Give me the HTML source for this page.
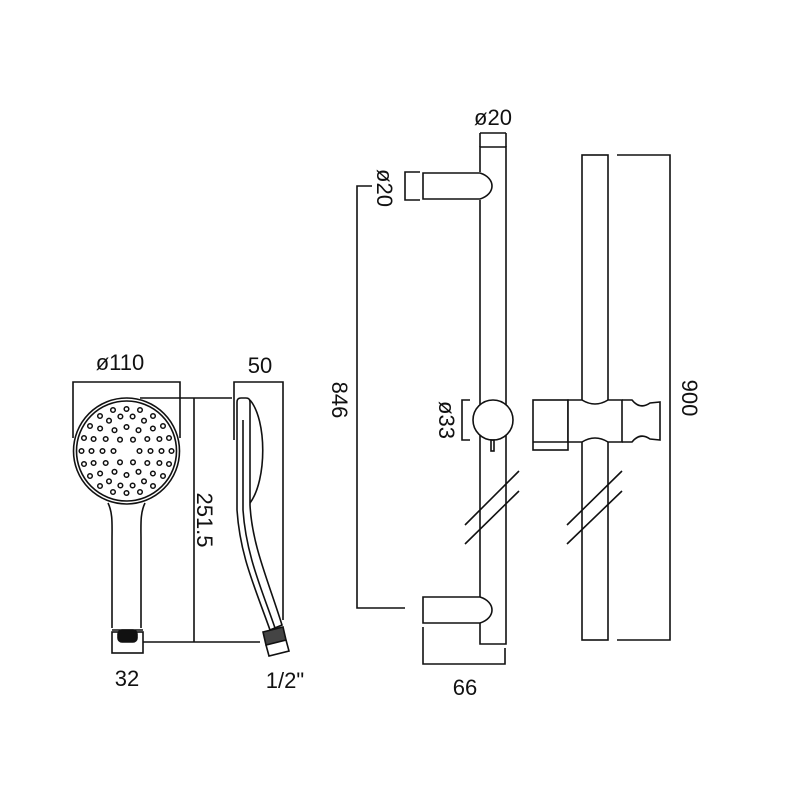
<!DOCTYPE html>
<html><head><meta charset="utf-8"><style>
html,body{margin:0;padding:0;background:#fff}
svg{display:block}
text{font-family:"Liberation Sans",sans-serif;font-size:22px;fill:#111}
</style></head><body>
<svg width="800" height="800" viewBox="0 0 800 800" xmlns="http://www.w3.org/2000/svg">
<g fill="none" stroke="#111" stroke-width="1.6">
<circle cx="126.5" cy="451" r="53"/>
<circle cx="126.5" cy="451" r="50"/>
<path d="M108 503 C113 513 112 525 112 540 L112 628 M145 503 C140 513 141 525 141 540 L141 628"/>
<path d="M112 630 L143 630"/>
<rect x="112" y="632" width="31" height="21"/>
<rect x="118" y="630" width="19" height="12" rx="4" fill="#111"/>
<path d="M73 438 L73 382 L180 382 L180 438"/>
<path d="M194 398 L194 642 M140 398 L232 398 M143 642 L260 642"/>
<path d="M234 440 L234 382 L283 382 L283 620"/>
<path d="M237 402 Q237 398 241 398 L246 398 Q250 398 250 402 L250 505 C252 545 268 580 282 625 L270 630 C254 585 240 555 237 510 Z"/>
<path d="M250 400 C267 420 267 480 250 503"/>
<path d="M243 420 L243 510 C246 555 262 590 275 628"/>
<path d="M263 632 L283 627 L286 640 L266 645 Z" fill="#444"/>
<path d="M266 645 L269 656 L289 651 L286 640"/>
<path d="M480 172 L480 147 L506 147 L506 644 L480 644 L480 623"/>
<path d="M480 200 L480 597"/>
<path d="M480 133 L480 147 M506 133 L506 147 M480 133 L506 133"/>
<path d="M423 173 L480 173 C496 178 496 194 480 199 L423 199 Z"/>
<path d="M420 172 L405 172 L405 200 L420 200"/>
<path d="M372 186 L357 186 L357 608 L405 608"/>
<path d="M423 597 L480 597 C496 602 496 618 480 623 L423 623 Z"/>
<path d="M423 627 L423 664 L505 664 L505 648"/>
<circle cx="493" cy="420" r="20" fill="#fff"/>
<rect x="491" y="440" width="3" height="11"/>
<path d="M470 400 L462 400 L462 440 L470 440"/>
<path d="M465 525 L519 471 M465 544 L519 491"/>
<rect x="582" y="155" width="26" height="485"/>
<path d="M617 155 L670 155 L670 640 L617 640"/>
<path d="M567 525 L622 471 M567 544 L622 491"/>
<rect x="533" y="400" width="35" height="50" fill="#fff"/>
<path d="M533 442 L568 442"/>
<path d="M568 400 L582 400 Q595 408 608 400 L622 400 L622 442 L608 442 Q595 434 582 442 L568 442 Z" fill="#fff"/>
<path d="M622 400 L632 400 Q640 410 650 403 L660 402 L660 440 L650 439 Q640 432 632 442 L622 442"/>
</g>
<g fill="none" stroke="#111" stroke-width="1.5">
<circle cx="139.5" cy="451" r="2.3"/><circle cx="133" cy="462.3" r="2.3"/><circle cx="120" cy="462.3" r="2.3"/><circle cx="113.5" cy="451" r="2.3"/><circle cx="120" cy="439.7" r="2.3"/><circle cx="133" cy="439.7" r="2.3"/>
<circle cx="150.5" cy="451" r="2.3"/><circle cx="147.3" cy="463" r="2.3"/><circle cx="138.5" cy="471.8" r="2.3"/><circle cx="126.5" cy="475" r="2.3"/><circle cx="114.5" cy="471.8" r="2.3"/><circle cx="105.7" cy="463" r="2.3"/><circle cx="102.5" cy="451" r="2.3"/><circle cx="105.7" cy="439" r="2.3"/><circle cx="114.5" cy="430.2" r="2.3"/><circle cx="126.5" cy="427" r="2.3"/><circle cx="138.5" cy="430.2" r="2.3"/><circle cx="147.3" cy="439" r="2.3"/>
<circle cx="161.5" cy="451" r="2.3"/><circle cx="159.4" cy="463" r="2.3"/><circle cx="152.9" cy="473.5" r="2.3"/><circle cx="144" cy="481.3" r="2.3"/><circle cx="132.6" cy="485.5" r="2.3"/><circle cx="120.4" cy="485.5" r="2.3"/><circle cx="109" cy="481.3" r="2.3"/><circle cx="100.1" cy="473.5" r="2.3"/><circle cx="93.6" cy="463" r="2.3"/><circle cx="91.5" cy="451" r="2.3"/><circle cx="93.6" cy="439" r="2.3"/><circle cx="100.1" cy="428.5" r="2.3"/><circle cx="109" cy="420.7" r="2.3"/><circle cx="120.4" cy="416.5" r="2.3"/><circle cx="132.6" cy="416.5" r="2.3"/><circle cx="144" cy="420.7" r="2.3"/><circle cx="152.9" cy="428.5" r="2.3"/><circle cx="159.4" cy="439" r="2.3"/>
<circle cx="171.5" cy="451" r="2.3"/><circle cx="169" cy="464" r="2.3"/><circle cx="163" cy="476" r="2.3"/><circle cx="153" cy="486" r="2.3"/><circle cx="140" cy="492" r="2.3"/><circle cx="126.5" cy="493" r="2.3"/><circle cx="113" cy="492" r="2.3"/><circle cx="100" cy="486" r="2.3"/><circle cx="90" cy="476" r="2.3"/><circle cx="84" cy="464" r="2.3"/><circle cx="81.5" cy="451" r="2.3"/><circle cx="84" cy="438" r="2.3"/><circle cx="90" cy="426" r="2.3"/><circle cx="100" cy="416" r="2.3"/><circle cx="113" cy="410" r="2.3"/><circle cx="126.5" cy="409" r="2.3"/><circle cx="140" cy="410" r="2.3"/><circle cx="153" cy="416" r="2.3"/><circle cx="163" cy="426" r="2.3"/><circle cx="169" cy="438" r="2.3"/>
</g>
<text x="120" y="370" text-anchor="middle">ø110</text>
<text x="260" y="373" text-anchor="middle">50</text>
<text x="127" y="686" text-anchor="middle">32</text>
<text x="285" y="688" text-anchor="middle">1/2"</text>
<text transform="translate(197,520) rotate(90)" text-anchor="middle">251.5</text>
<text x="493" y="125" text-anchor="middle">ø20</text>
<text transform="translate(377,188) rotate(90)" text-anchor="middle">ø20</text>
<text transform="translate(332,400) rotate(90)" text-anchor="middle">846</text>
<text transform="translate(439,420) rotate(90)" text-anchor="middle">ø33</text>
<text transform="translate(682,398) rotate(90)" text-anchor="middle">900</text>
<text x="465" y="695" text-anchor="middle">66</text>
</svg>
</body></html>
